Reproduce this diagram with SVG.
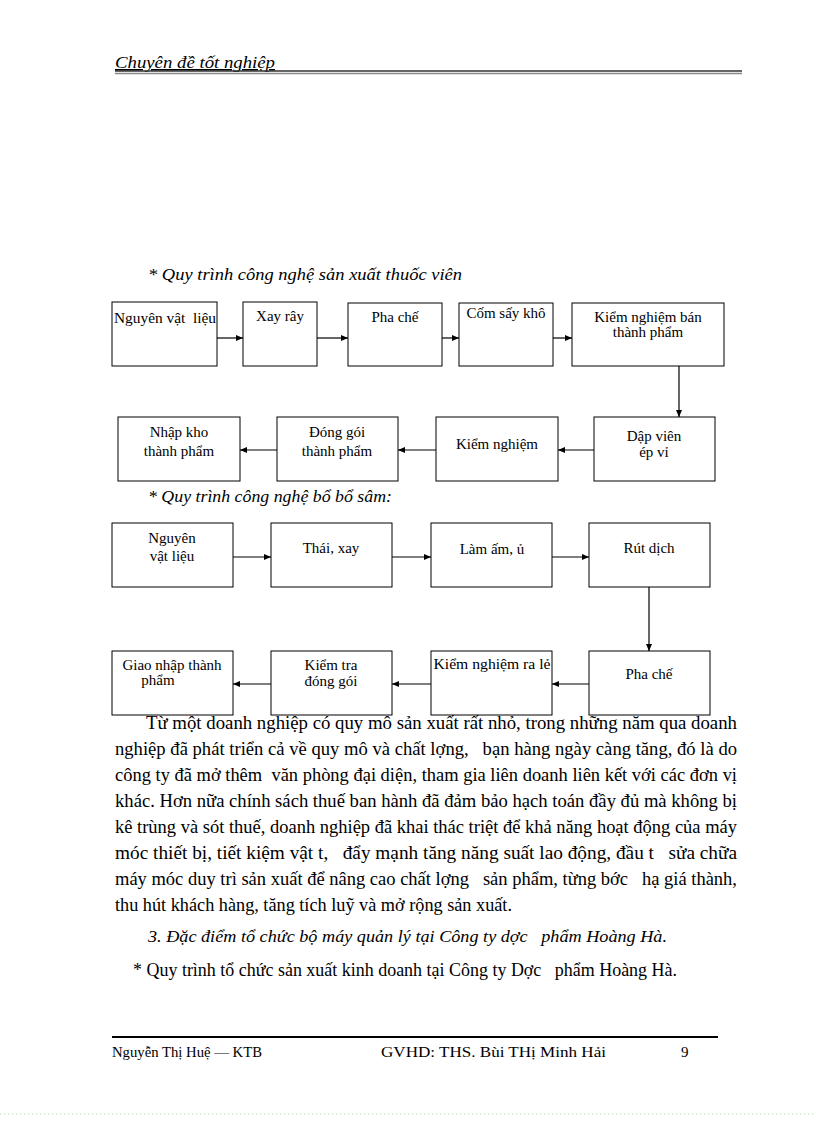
<svg xmlns="http://www.w3.org/2000/svg" width="816" height="1123" viewBox="0 0 816 1123">
<style>
.box{fill:#fff;stroke:#000;stroke-width:1}
.bt{font-family:"Liberation Serif","Times New Roman",serif;font-size:15px;fill:#000;text-anchor:middle}
.btl{font-family:"Liberation Serif","Times New Roman",serif;font-size:15px;fill:#000}
.conn line{stroke:#000;stroke-width:1.2;marker-end:url(#ah)}
.ti{font-family:"Liberation Serif","Times New Roman",serif;font-size:16px;font-style:italic;fill:#000}
.p{font-family:"Liberation Serif","Times New Roman",serif;font-size:19px;fill:#000;white-space:pre}
.f{font-family:"Liberation Serif","Times New Roman",serif;font-size:15px;fill:#000}
</style>
<defs>
<marker id="ah" markerWidth="8" markerHeight="8" refX="7" refY="4" orient="auto" markerUnits="userSpaceOnUse">
<path d="M0,1 L7,4 L0,7 z" fill="#000"/>
</marker>
</defs>
<rect width="816" height="1123" fill="#fff"/>

<g id="header">
<text x="115" y="68" class="ti" font-size="17" text-decoration="underline" textLength="160" lengthAdjust="spacingAndGlyphs">Chuyên đề tốt nghiệp</text>
<line x1="115" y1="71" x2="742" y2="71" stroke="#333" stroke-width="1.5"/>
<line x1="115" y1="73.5" x2="742" y2="73.5" stroke="#888" stroke-width="1.5"/>
</g>

<text x="148" y="280" class="ti" textLength="314" lengthAdjust="spacingAndGlyphs">* Quy trình công nghệ sản xuất thuốc viên</text>

<g id="n1"><rect class="box" x="112" y="302" width="105" height="64"/><text x="114" y="323" class="btl" xml:space="preserve" textLength="102" lengthAdjust="spacingAndGlyphs">Nguyên vật  liệu</text></g>
<g id="n2"><rect class="box" x="243" y="302" width="74" height="64"/><text x="280" y="321" class="bt">Xay rây</text></g>
<g id="n3"><rect class="box" x="348" y="303" width="94" height="63"/><text x="395" y="322" class="bt">Pha chế</text></g>
<g id="n4"><rect class="box" x="459" y="303" width="94" height="63"/><text x="506" y="318" class="bt">Cốm sấy khô</text></g>
<g id="n5"><rect class="box" x="572" y="303" width="152" height="63"/><text x="648" y="322" class="bt">Kiểm nghiệm bán</text><text x="648" y="337" class="bt">thành phẩm</text></g>

<g id="n6"><rect class="box" x="594" y="417" width="121" height="64"/><text x="654" y="441" class="bt">Dập viên</text><text x="654" y="457" class="bt">ép vỉ</text></g>
<g id="n7"><rect class="box" x="436" y="417" width="122" height="64"/><text x="497" y="449" class="bt">Kiểm nghiệm</text></g>
<g id="n8"><rect class="box" x="277" y="417" width="121" height="64"/><text x="337" y="437" class="bt">Đóng gói</text><text x="337" y="456" class="bt">thành phẩm</text></g>
<g id="n9"><rect class="box" x="118" y="417" width="122" height="64"/><text x="179" y="437" class="bt">Nhập kho</text><text x="179" y="456" class="bt">thành phẩm</text></g>

<text x="148" y="502" class="ti" textLength="244" lengthAdjust="spacingAndGlyphs">* Quy trình công nghệ bổ bổ sâm:</text>

<g id="m1"><rect class="box" x="112" y="523" width="121" height="64"/><text x="172" y="543" class="bt">Nguyên</text><text x="172" y="561" class="bt">vật liệu</text></g>
<g id="m2"><rect class="box" x="271" y="523" width="121" height="64"/><text x="331" y="553" class="bt">Thái, xay</text></g>
<g id="m3"><rect class="box" x="431" y="523" width="121" height="64"/><text x="492" y="554" class="bt">Làm ấm, ủ</text></g>
<g id="m4"><rect class="box" x="589" y="523" width="121" height="64"/><text x="649" y="553" class="bt">Rút dịch</text></g>

<g id="m5"><rect class="box" x="589" y="651" width="121" height="64"/><text x="649" y="679" class="bt">Pha chế</text></g>
<g id="m6"><rect class="box" x="431" y="651" width="121" height="64"/><text x="492" y="669" class="bt" textLength="117" lengthAdjust="spacingAndGlyphs">Kiểm nghiệm ra lẻ</text></g>
<g id="m7"><rect class="box" x="271" y="651" width="121" height="64"/><text x="331" y="670" class="bt">Kiểm tra</text><text x="331" y="686" class="bt">đóng gói</text></g>
<g id="m8"><rect class="box" x="112" y="651" width="121" height="64"/><text x="172" y="670" class="bt">Giao nhập thành</text><text x="158" y="685" class="bt">phẩm</text></g>

<g id="connectors" class="conn">
<line x1="217" y1="338" x2="243" y2="338"/>
<line x1="317" y1="338" x2="348" y2="338"/>
<line x1="442" y1="338" x2="459" y2="338"/>
<line x1="553" y1="338" x2="572" y2="338"/>
<line x1="679" y1="366" x2="679" y2="417"/>
<line x1="594" y1="450" x2="558" y2="450"/>
<line x1="436" y1="450" x2="398" y2="450"/>
<line x1="277" y1="450" x2="240" y2="450"/>
<line x1="233" y1="557" x2="271" y2="557"/>
<line x1="392" y1="557" x2="431" y2="557"/>
<line x1="552" y1="557" x2="589" y2="557"/>
<line x1="649" y1="587" x2="649" y2="651"/>
<line x1="589" y1="684" x2="552" y2="684"/>
<line x1="431" y1="684" x2="392" y2="684"/>
<line x1="271" y1="684" x2="233" y2="684"/>
</g>

<g id="body">
<text x="146" y="729" class="p" xml:space="preserve" textLength="591" lengthAdjust="spacingAndGlyphs">Từ một doanh nghiệp có quy mô sản xuất rất nhỏ, trong những năm qua doanh</text>
<text x="115" y="755" class="p" xml:space="preserve" textLength="622" lengthAdjust="spacingAndGlyphs">nghiệp đã phát triển cả về quy mô và chất lợng,   bạn hàng ngày càng tăng, đó là do</text>
<text x="115" y="781" class="p" xml:space="preserve" textLength="622" lengthAdjust="spacingAndGlyphs">công ty đã mở thêm  văn phòng đại diện, tham gia liên doanh liên kết với các đơn vị</text>
<text x="115" y="807" class="p" xml:space="preserve" textLength="622" lengthAdjust="spacingAndGlyphs">khác. Hơn nữa chính sách thuế ban hành đã đảm bảo hạch toán đầy đủ mà không bị</text>
<text x="115" y="833" class="p" xml:space="preserve" textLength="622" lengthAdjust="spacingAndGlyphs">kê trùng và sót thuế, doanh nghiệp đã khai thác triệt để khả năng hoạt động của máy</text>
<text x="115" y="859" class="p" xml:space="preserve" textLength="622" lengthAdjust="spacingAndGlyphs">móc thiết bị, tiết kiệm vật t,   đẩy mạnh tăng năng suất lao động, đầu t   sửa chữa</text>
<text x="115" y="885" class="p" xml:space="preserve" textLength="622" lengthAdjust="spacingAndGlyphs">máy móc duy trì sản xuất để nâng cao chất lợng   sản phẩm, từng bớc   hạ giá thành,</text>
<text x="115" y="911" class="p" textLength="397" lengthAdjust="spacingAndGlyphs">thu hút khách hàng, tăng tích luỹ và mở rộng sản xuất.</text>
<text x="148" y="942" class="ti" font-size="17" xml:space="preserve" textLength="519" lengthAdjust="spacingAndGlyphs">3. Đặc điểm tổ chức bộ máy quản lý tại Công ty dợc   phẩm Hoàng Hà.</text>
<text x="133" y="976" class="p" xml:space="preserve" textLength="544" lengthAdjust="spacingAndGlyphs">* Quy trình tổ chức sản xuất kinh doanh tại Công ty Dợc   phẩm Hoàng Hà.</text>
</g>

<g id="footer">
<line x1="112" y1="1037" x2="718" y2="1037" stroke="#000" stroke-width="2"/>
<text x="112" y="1057" class="f" textLength="150" lengthAdjust="spacingAndGlyphs">Nguyễn Thị Huệ — KTB</text>
<text x="381" y="1057" class="f" textLength="225" lengthAdjust="spacingAndGlyphs">GVHD: THS. Bùi THị Minh Hải</text>
<text x="681" y="1057" class="f">9</text>
<line x1="0" y1="1114" x2="816" y2="1114" stroke="#a8d8a8" stroke-width="1" stroke-dasharray="1,3"/>
</g>
</svg>
